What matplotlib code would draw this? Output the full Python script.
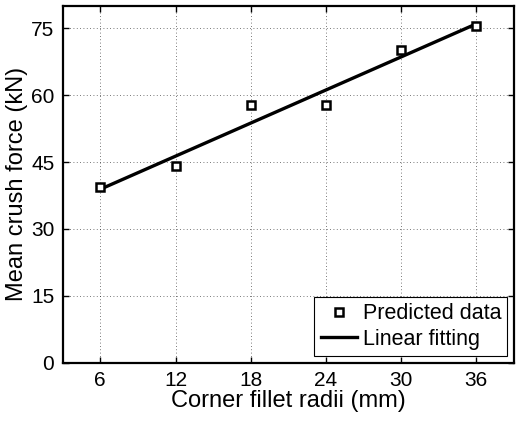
import numpy as np
import matplotlib as mpl
import matplotlib.pyplot as plt
mpl.use('agg')

plt.rcParams['font.family'] = ['Liberation Sans', 'DejaVu Sans']

## data
radii = [6, 12, 18, 24, 30, 36]
force = [39.3, 44.1, 57.7, 57.9, 70.1, 75.6]
xticks = [6, 12, 18, 24, 30, 36]
yticks = [0, 15, 30, 45, 60, 75]

# linear fit through the predicted points
coef = np.polyfit(radii, force, 1)
fit_x = np.array([radii[0], radii[-1]])
fit_y = np.polyval(coef, fit_x)

fig = plt.figure(figsize=(5.16, 4.23), dpi=100)
ax = fig.add_axes([0.1215, 0.1426, 0.8745, 0.8432])

ax.plot(radii, force, linestyle='none', marker='s', markersize=6.2,
        markerfacecolor='white', markeredgecolor='black', markeredgewidth=1.8,
        label='Predicted data', zorder=4)
ax.plot(fit_x, fit_y, color='black', linewidth=2.4, label='Linear fitting', zorder=3)

ax.set_xlim(3, 39)
ax.set_ylim(0, 80)
ax.set_xticks(xticks)
ax.set_yticks(yticks)
ax.grid(True, linestyle=(0, (1, 3)), color='black', linewidth=0.6, alpha=0.7)
ax.tick_params(axis='both', direction='in', top=True, right=True,
               length=4, width=1.0, labelsize=15, pad=6)
for s in ax.spines.values():
    s.set_linewidth(1.6)

ax.set_xlabel('Corner fillet radii (mm)', fontsize=17, labelpad=0)
ax.set_ylabel('Mean crush force (kN)', fontsize=17, labelpad=2)

leg = ax.legend(loc='lower right', fontsize=15.5, fancybox=False, framealpha=1,
                edgecolor='black', borderaxespad=0.3, handlelength=1.7,
                handletextpad=0.25, borderpad=0.3, labelspacing=0.2,
                markerscale=0.85)
leg.get_frame().set_linewidth(0.8)

fig.savefig('out.png', dpi=100)
